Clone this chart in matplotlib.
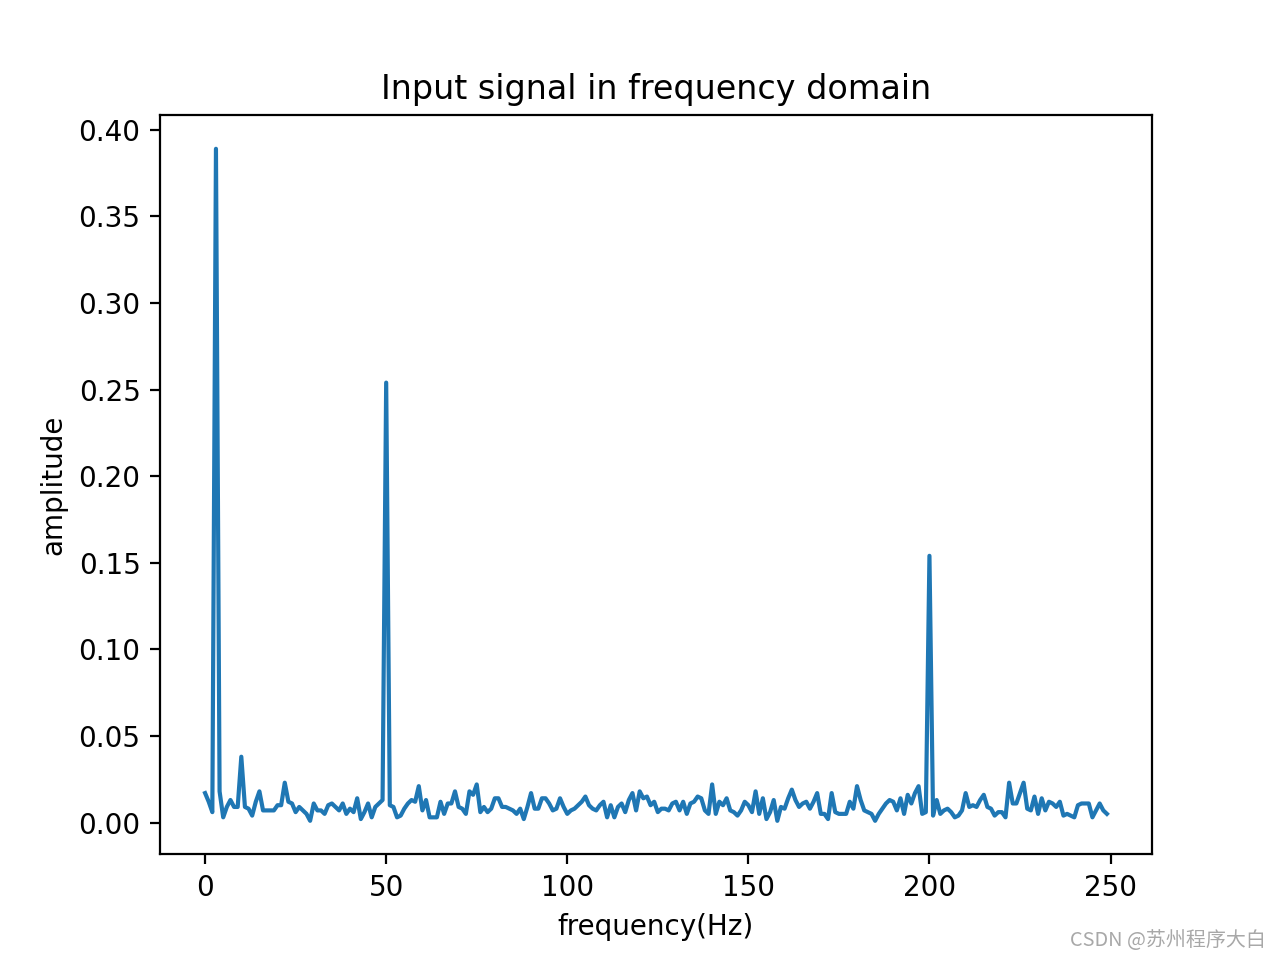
import numpy as np
import matplotlib
matplotlib.use("Agg")
import matplotlib.pyplot as plt

# amplitude spectrum, one value per Hz from 0 to 249
amplitude = [
    0.017, 0.012, 0.006, 0.389, 0.018, 0.003, 0.009, 0.013, 0.009, 0.009,  # 0-9
    0.038, 0.009, 0.008, 0.004, 0.012, 0.018, 0.007, 0.007, 0.007, 0.007,  # 10-19
    0.010, 0.010, 0.023, 0.012, 0.011, 0.006, 0.009, 0.007, 0.005, 0.001,  # 20-29
    0.011, 0.007, 0.007, 0.005, 0.010, 0.011, 0.009, 0.007, 0.011, 0.005,  # 30-39
    0.008, 0.006, 0.014, 0.002, 0.006, 0.011, 0.003, 0.009, 0.011, 0.013,  # 40-49
    0.254, 0.010, 0.009, 0.003, 0.004, 0.008, 0.011, 0.013, 0.012, 0.021,  # 50-59
    0.007, 0.013, 0.003, 0.003, 0.003, 0.012, 0.005, 0.011, 0.011, 0.018,  # 60-69
    0.009, 0.008, 0.005, 0.018, 0.016, 0.022, 0.006, 0.009, 0.006, 0.008,  # 70-79
    0.014, 0.014, 0.009, 0.009, 0.008, 0.007, 0.005, 0.008, 0.002, 0.009,  # 80-89
    0.017, 0.008, 0.008, 0.014, 0.014, 0.011, 0.007, 0.008, 0.014, 0.009,  # 90-99
    0.005, 0.007, 0.008, 0.010, 0.012, 0.015, 0.010, 0.008, 0.007, 0.010,  # 100-109
    0.012, 0.003, 0.010, 0.003, 0.009, 0.011, 0.006, 0.013, 0.017, 0.007,  # 110-119
    0.018, 0.014, 0.015, 0.010, 0.012, 0.006, 0.008, 0.008, 0.007, 0.011,  # 120-129
    0.012, 0.007, 0.012, 0.005, 0.011, 0.012, 0.015, 0.014, 0.007, 0.005,  # 130-139
    0.022, 0.005, 0.012, 0.010, 0.014, 0.007, 0.006, 0.004, 0.007, 0.012,  # 140-149
    0.010, 0.006, 0.018, 0.005, 0.014, 0.002, 0.006, 0.013, 0.001, 0.009,  # 150-159
    0.008, 0.014, 0.019, 0.013, 0.009, 0.011, 0.012, 0.008, 0.012, 0.017,  # 160-169
    0.005, 0.005, 0.002, 0.017, 0.006, 0.005, 0.005, 0.005, 0.012, 0.008,  # 170-179
    0.021, 0.013, 0.007, 0.006, 0.005, 0.001, 0.005, 0.008, 0.011, 0.013,  # 180-189
    0.012, 0.007, 0.014, 0.005, 0.016, 0.011, 0.017, 0.021, 0.005, 0.006,  # 190-199
    0.154, 0.004, 0.013, 0.005, 0.007, 0.008, 0.006, 0.003, 0.004, 0.007,  # 200-209
    0.017, 0.009, 0.010, 0.009, 0.013, 0.016, 0.009, 0.008, 0.004, 0.006,  # 210-219
    0.006, 0.003, 0.023, 0.011, 0.011, 0.017, 0.023, 0.008, 0.007, 0.015,  # 220-229
    0.005, 0.014, 0.007, 0.012, 0.011, 0.009, 0.012, 0.004, 0.005, 0.004,  # 230-239
    0.003, 0.010, 0.011, 0.011, 0.011, 0.003, 0.007, 0.011, 0.007, 0.005,  # 240-249
]
frequency = np.arange(len(amplitude))

title = "Input signal in frequency domain"
xlabel = "frequency(Hz)"
ylabel = "amplitude"
watermark = "CSDN @苏州程序大白"

fig, ax = plt.subplots(figsize=(6.4, 4.8), dpi=200)
ax.plot(frequency, amplitude, color="#1f77b4")
ax.set_title(title)
ax.set_xlabel(xlabel)
ax.set_ylabel(ylabel)

fig.text(0.989, 0.02, watermark, ha="right", va="center", fontsize=7.2,
         color="#a8a8a8", family=["Noto Sans CJK SC", "DejaVu Sans"])

fig.savefig("out.png", dpi=200)
